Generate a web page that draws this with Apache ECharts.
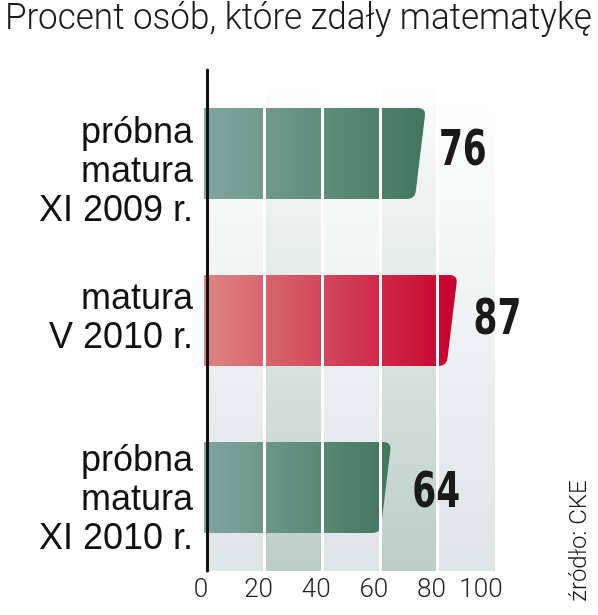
<!DOCTYPE html>
<html><head><meta charset="utf-8">
<script src="https://cdn.jsdelivr.net/npm/echarts@6/dist/echarts.min.js"></script>
<style>html,body{margin:0;padding:0;background:#fff}#c{width:598px;height:615px}</style>
</head><body><div id="c"></div>
<script>
const categories = ['próbna\nmatura\nXI 2009 r.', 'matura\nV 2010 r.', 'próbna\nmatura\nXI 2010 r.'];
const values = [76, 87, 64];
const xTicks = [0, 20, 40, 60, 80, 100];
const titleText = 'Procent osób, które zdały matematykę';
const sourceText = 'źródło: CKE';

// styling (not data)
const barColors = [['#82a69d', '#42765f'], ['#dc8683', '#c8002c'], ['#82a69d', '#42765f']];
const catLabelShift = [19, -2, 13];
const valueLabelShift = [-1, 1, 7];
const valueLabelDx = [13, 16, 21];
const lightBand = {type:'linear', x:0, y:0, x2:0, y2:1, colorStops:[{offset:0,color:'#ffffff'},{offset:1,color:'#dfe4e5'}]};
const darkBand = {type:'linear', x:0, y:0, x2:0, y2:1, colorStops:[{offset:0,color:'#ffffff'},{offset:1,color:'#bccdc8'}]};

const chart = echarts.init(document.getElementById('c'), null, {renderer:'canvas'});

function quad(p0, c, p1, n) {
  const pts = [];
  for (let k = 0; k <= n; k++) {
    const t = k / n, u = 1 - t;
    pts.push([u*u*p0[0] + 2*u*t*c[0] + t*t*p1[0], u*u*p0[1] + 2*u*t*c[1] + t*t*p1[1]]);
  }
  return pts;
}

function renderBar(params, api) {
  const v = api.value(0), i = api.value(1);
  const p = api.coord([v, i]);
  const x0 = api.coord([0, i])[0] - 3;
  const h = api.size([0, 1])[1] * 0.545;
  const yT = p[1] - h / 2, yB = p[1] + h / 2;
  const xT = p[0], s = 11, r = 8, xB = xT - s;
  let pts = [[x0, yT]];
  pts = pts.concat(quad([xT - r, yT], [xT, yT], [xT - s * r / h, yT + r], 6));
  pts = pts.concat(quad([xB + s * r / h, yB - r], [xB, yB], [xB - r, yB], 6));
  pts.push([x0, yB]);
  const c = barColors[params.dataIndex];
  return {
    type: 'polygon',
    shape: {points: pts},
    style: {fill: {type:'linear', x:0, y:0, x2:1, y2:0, colorStops:[{offset:0,color:c[0]},{offset:1,color:c[1]}]}}
  };
}

function renderLabel(params, api) {
  const v = api.value(0), i = api.value(1);
  const p = api.coord([v, i]);
  return {
    type: 'text',
    x: p[0] + valueLabelDx[params.dataIndex], y: p[1] + valueLabelShift[params.dataIndex],
    scaleX: 0.78,
    style: {text: String(v), fill:'#1a1a1a', font:'bold 49px "DejaVu Sans Condensed", "DejaVu Sans", sans-serif', align:'left', verticalAlign:'middle'}
  };
}

const bandData = [];
for (let k = 0; k < xTicks.length - 1; k++) {
  bandData.push([{xAxis: xTicks[k], itemStyle:{color: k % 2 ? darkBand : lightBand}}, {xAxis: xTicks[k+1]}]);
}

const catRich = {t: {fontSize:36, fontFamily:'"Liberation Sans", Arial, sans-serif', lineHeight:39, color:'#111', align:'right'}};
catLabelShift.forEach((s, i) => { catRich['s' + i] = {fontSize:1, lineHeight: Math.max(1, 2 * Math.abs(s)), align:'right'}; });

chart.setOption({
  animation: false,
  grid: {left: 207, right: 103, top: 70, bottom: 44},
  xAxis: {
    type: 'value', min: 0, max: 100, interval: 20,
    axisLine: {show:false}, axisTick: {show:false}, splitLine: {show:false},
    axisLabel: {
      color:'#222', fontSize:26, fontFamily:'Roboto', fontWeight:300, margin:6,
      padding:[0, 12, 0, 0],
      formatter: v => v === 100 ? '{e|' + v + '}' : String(v),
      rich: {e: {fontSize:26, fontFamily:'Roboto', fontWeight:300, color:'#222', padding:[0, 16, 0, 0]}}
    }
  },
  yAxis: {
    type: 'category', inverse: true, z: 10, data: categories,
    axisLine: {show:true, lineStyle:{color:'#111', width:3}},
    axisTick: {show:false},
    axisLabel: {
      color:'#111', fontSize:36, fontFamily:'"Liberation Sans", Arial, sans-serif', lineHeight:39, align:'right', margin:14,
      formatter: (value, index) => {
        const lines = value.split('\n').map(l => '{t|' + l + '}');
        const sp = '{s' + index + '| }';
        if (catLabelShift[index] >= 0) lines.unshift(sp); else lines.push(sp);
        return lines.join('\n');
      },
      rich: catRich
    }
  },
  graphic: [
    {type:'text', left:5, top:1, scaleX:0.947, style:{text:titleText, fill:'#1a1a1a', font:'300 37px Roboto, sans-serif'}},
    {type:'text', x:580, y:541, rotation:Math.PI/2, style:{text:sourceText, fill:'#1a1a1a', font:'300 24px Roboto, sans-serif', align:'center', verticalAlign:'middle'}}
  ],
  series: [
    {
      type: 'custom', z: 2, renderItem: renderBar,
      data: values.map((v, i) => [v, i]), encode: {x:0, y:1},
      markArea: {silent:true, z:1, data: bandData},
      markLine: {silent:true, z:5, symbol:'none', label:{show:false}, lineStyle:{color:'#ffffff', width:3, type:'solid'},
        data: xTicks.slice(1, -1).map(t => ({xAxis: t}))}
    },
    {
      type: 'custom', z: 7, renderItem: renderLabel,
      data: values.map((v, i) => [v, i]), encode: {x:0, y:1}
    }
  ]
});
</script>
</body></html>
